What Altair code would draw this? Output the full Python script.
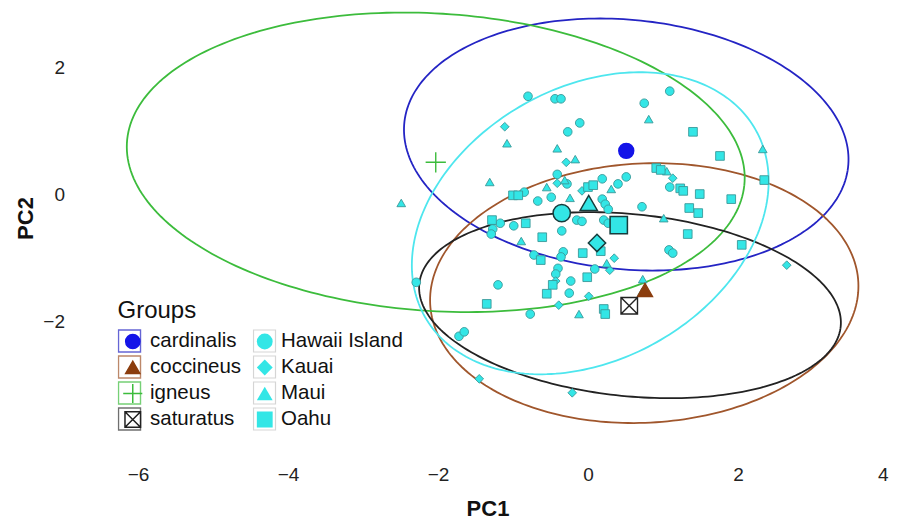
import altair as alt
import numpy as np
import pandas as pd

# ---------------- data ----------------
hawaii_x = [-0.80, -0.44, -0.36, 0.75, 1.09, -0.11, -0.27, -0.41, -0.28, -0.85, -0.67, -0.49,
            0.19, 0.40, 0.51, 1.09, 0.72, 0.19, 0.23, 0.27, -0.15, -0.08, 0.21, 0.27, -1.17,
            -1.27, -1.29, -0.99, -0.35, -0.72, -0.33, -0.36, -0.40, -0.43, 0.09, -0.23, -1.20,
            -0.25, -0.77, -2.29, -1.72, -1.65, 1.08, 1.13]
hawaii_y = [1.54, 1.50, 1.50, 1.43, 1.62, 1.12, 0.98, 0.31, 0.16, 0.03, -0.11, -0.05,
            0.24, 0.16, 0.27, 0.11, -0.20, -0.08, -0.16, -0.24, -0.41, -0.43, -0.41, -0.46, -0.46,
            -0.55, -0.63, -0.50, -0.58, -0.96, -0.91, -0.99, -1.17, -1.26, -1.18, -1.37, -1.43,
            -1.56, -1.89, -1.39, -2.24, -2.17, -0.88, -0.93]

kauai_x = [-1.11, -0.29, -0.41, -0.08, 1.13, 0.35, 0.29, -0.43, 0.01, -0.39, 2.65, -1.45, -0.21]
kauai_y = [1.06, 0.50, 0.17, 0.05, 0.25, -1.01, -1.20, -1.37, -1.61, -1.75, -1.12, -2.91, -3.13]

maui_x = [0.81, -1.08, -0.41, -0.17, -1.31, -0.55, -0.31, -0.24, -2.49, -0.89, 1.01, 1.05,
          2.33, 0.25, 0.73, 0.72, -0.12, 0.31]
maui_y = [1.18, 0.80, 0.72, 0.55, 0.19, 0.11, 0.22, -0.06, -0.14, -0.74, -0.38, 0.36,
          0.71, -1.09, -1.34, -1.54, -1.89, 0.08]

oahu_x = [1.40, 1.76, 2.35, -1.00, -0.93, 0.00, 0.07, 0.91, 0.97, 1.23, 1.27, 1.49, 1.91,
          1.35, 1.47, -1.28, -0.83, -0.61, 1.33, 2.05, -0.63, -0.07, 0.17, -0.01, -0.47,
          -0.55, -1.35, 0.21, 0.23]
oahu_y = [0.98, 0.60, 0.22, -0.02, -0.02, 0.11, 0.14, 0.41, 0.38, 0.09, 0.05, 0.00, -0.08,
          -0.22, -0.30, -0.41, -0.46, -0.68, -0.63, -0.80, -1.04, -0.93, -0.90, -1.31, -1.43,
          -1.57, -1.73, -1.81, -1.89]

islands = ["Hawaii Island", "Kauai", "Maui", "Oahu"]
island_mean_x = [-0.35, 0.12, 0.01, 0.41]
island_mean_y = [-0.30, -0.77, -0.14, -0.49]

groups = ["cardinalis", "coccineus", "igneus", "saturatus"]
group_mean_x = [0.51, 0.76, -2.03, 0.55]
group_mean_y = [0.68, -1.51, 0.50, -1.76]

ellipse_names = ["cardinalis", "coccineus", "igneus", "saturatus", "all islands"]
ellipse_cx = [0.51, 0.75, -2.03, 0.56, 0.03]
ellipse_cy = [0.78, -1.56, 0.50, -1.75, -0.46]
ellipse_a = [2.98, 2.86, 4.13, 2.83, 2.69]
ellipse_b = [1.96, 2.04, 2.34, 1.43, 2.02]
ellipse_angle = [-8.0, 4.5, -5.0, -7.5, 45.0]
ellipse_colors = ["#2424c4", "#a0562c", "#3cbc3c", "#222222", "#4ee6ee"]

group_fill = ["#1414e8", "#8b3d0e", "transparent", "#ffffff"]
group_stroke = ["#1414e8", "#8b3d0e", "#3cbc3c", "#222222"]
group_box = ["#2424c4", "#a0562c", "#3cbc3c", "#333333"]

# ---------------- tables ----------------
rows = []
for name, xs, ys in zip(islands, [hawaii_x, kauai_x, maui_x, oahu_x],
                        [hawaii_y, kauai_y, maui_y, oahu_y]):
    for x, y in zip(xs, ys):
        rows.append({"x": x, "y": y, "island": name, "kind": "pt"})
for name, x, y in zip(islands, island_mean_x, island_mean_y):
    rows.append({"x": x, "y": y, "island": name, "kind": "mean"})
pts = pd.DataFrame(rows)

gm = pd.DataFrame({"x": group_mean_x, "y": group_mean_y, "group": groups, "gbox": groups})
im = pd.DataFrame({"x": island_mean_x, "y": island_mean_y, "ibox": islands})

t = np.linspace(0, 2 * np.pi, 241)
ell_frames = []
for n, cx, cy, a, b, ang in zip(ellipse_names, ellipse_cx, ellipse_cy, ellipse_a,
                                ellipse_b, ellipse_angle):
    th = np.deg2rad(ang)
    ex = cx + a * np.cos(t) * np.cos(th) - b * np.sin(t) * np.sin(th)
    ey = cy + a * np.cos(t) * np.sin(th) + b * np.sin(t) * np.cos(th)
    ell_frames.append(pd.DataFrame({"x": ex, "y": ey, "i": np.arange(len(t)), "name": n}))

# ---------------- encodings ----------------
FONT = "Liberation Sans"
x_enc = alt.X("x:Q", scale=alt.Scale(domain=[-6.9, 4.0], nice=False, zero=False),
              axis=alt.Axis(values=[-6, -4, -2, 0, 2, 4], title="PC1", grid=False,
                            domain=False, ticks=False, tickSize=0, labelFontSize=19,
                            labelFont=FONT, labelColor="#222", labelPadding=11,
                            titleFont=FONT, titleFontSize=22, titleFontWeight="bold",
                            titlePadding=14, titleX=417, titleColor="#111"))
y_enc = alt.Y("y:Q", scale=alt.Scale(domain=[-4.1, 2.93], nice=False, zero=False),
              axis=alt.Axis(values=[-2, 0, 2], title="PC2", grid=False, domain=False,
                            ticks=False, tickSize=0, labelFontSize=19, labelFont=FONT,
                            labelColor="#222", labelPadding=6, titleFont=FONT,
                            titleFontSize=22, titleFontWeight="bold", titlePadding=5,
                            titleY=210, titleColor="#111"))

layers = []
for df, col in zip(ell_frames, ellipse_colors):
    layers.append(alt.Chart(df).mark_line(color=col, strokeWidth=1.8).encode(
        x=x_enc, y=y_enc, order="i:Q"))

# key boxes (legend only; the marks themselves have zero size)
group_box_legend = alt.Legend(title=None, orient="none", legendX=47, legendY=320,
                              symbolType="square", symbolSize=484, symbolStrokeWidth=1.4,
                              symbolFillColor="transparent", labelExpr="''",
                              labelFontSize=1, rowPadding=0, clipHeight=26, padding=0)
layers.append(alt.Chart(gm).mark_point(size=0, shape="square", filled=False).encode(
    x=x_enc, y=y_enc,
    stroke=alt.Stroke("gbox:N", scale=alt.Scale(domain=groups, range=group_box),
                      legend=group_box_legend)))

island_box_legend = alt.Legend(title=None, orient="none", legendX=182, legendY=320,
                               symbolType="square", symbolSize=484, symbolStrokeWidth=1.2,
                               symbolFillColor="transparent", labelExpr="''",
                               labelFontSize=1, rowPadding=0, clipHeight=26, padding=0)
layers.append(alt.Chart(im).mark_point(size=0, shape="square", filled=False).encode(
    x=x_enc, y=y_enc,
    stroke=alt.Stroke("ibox:N", scale=alt.Scale(domain=islands,
                      range=["#c4c4c4"] * 4), legend=island_box_legend)))

island_legend = alt.Legend(title=None, orient="none", legendX=184, legendY=323,
                           symbolSize=250, symbolFillColor="#33e8e8", symbolStrokeColor="#33e8e8",
                           symbolStrokeWidth=0, labelFontSize=20.5, labelFont=FONT,
                           labelColor="#111", rowPadding=5, clipHeight=21, labelOffset=6,
                           padding=0)

kinds = ["pt", "mean"]
island_layer = alt.Chart(pts).mark_point(filled=True, fill="#33e6e6", opacity=1).encode(
    x=x_enc, y=y_enc,
    shape=alt.Shape("island:N", scale=alt.Scale(domain=islands,
                    range=["circle", "diamond", "triangle-up", "square"]),
                    legend=island_legend),
    size=alt.Size("kind:N", scale=alt.Scale(domain=kinds, range=[75, 300]), legend=None),
    stroke=alt.Stroke("kind:N", scale=alt.Scale(domain=kinds,
                      range=["#3a9a9a", "#163c3c"]), legend=None),
    strokeWidth=alt.StrokeWidth("kind:N", scale=alt.Scale(domain=kinds,
                                range=[0.9, 1.5]), legend=None),
)
layers.append(island_layer)

plus_path = "M-1.35,0H1.35M0,-1.35V1.35"
boxx_path = "M-1.1,-1.1H1.1V1.1H-1.1ZM-1.1,-1.1L1.1,1.1M-1.1,1.1L1.1,-1.1"
group_legend = alt.Legend(title="Groups", orient="none", legendX=47, legendY=291,
                          titleFont=FONT, titleFontSize=24, titleFontWeight="normal",
                          titleColor="#111", labelFont=FONT, labelFontSize=20.5,
                          labelColor="#111", symbolSize=200, symbolStrokeWidth=1.5,
                          symbolOffset=5, rowPadding=5, clipHeight=21, titlePadding=8,
                          labelOffset=7, padding=0)

group_layer = alt.Chart(gm).mark_point(opacity=1, strokeWidth=1.4, size=225).encode(
    x=x_enc, y=y_enc,
    shape=alt.Shape("group:N", scale=alt.Scale(domain=groups,
                    range=["circle", "triangle-up", plus_path, boxx_path]), legend=group_legend),
    fill=alt.Fill("group:N", scale=alt.Scale(domain=groups, range=group_fill),
                  legend=group_legend),
    stroke=alt.Stroke("group:N", scale=alt.Scale(domain=groups, range=group_stroke),
                      legend=group_legend),
)
layers.append(group_layer)

chart = alt.layer(*layers).resolve_scale(
    shape="independent", size="independent", stroke="independent",
    strokeWidth="independent", fill="independent"
).resolve_legend(
    shape="independent", stroke="independent", fill="independent"
).properties(
    width=817.5, height=446.4,
    autosize=alt.AutoSizeParams(type="none"),
    padding={"left": 62.5, "top": 0, "right": 2, "bottom": 66},
).configure_view(stroke=None)

chart.save("out.html", embed_options={"renderer": "svg", "actions": False})
